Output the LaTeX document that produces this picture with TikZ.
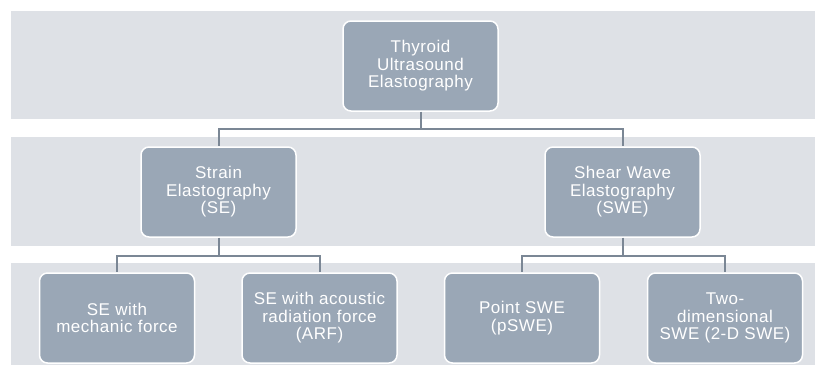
\documentclass[tikz,border=0pt]{standalone}
\usepackage{fontspec}
\setmainfont{Liberation Sans}[LetterSpace=3]
\definecolor{bandc}{HTML}{DEE1E6}
\definecolor{nodec}{HTML}{9AA7B6}
\definecolor{linec}{HTML}{7B8795}
\begin{document}
\begin{tikzpicture}[x=1pt,y=-1pt,
  box/.style={rectangle, rounded corners=8pt, fill=nodec, draw=white, line width=1.5pt,
    minimum width=155pt, minimum height=90pt, inner sep=2pt, align=center, text=white,
    font=\fontsize{17}{17.5}\selectfont},
  band/.style={fill=bandc, draw=none},
  conn/.style={draw=linec, line width=2pt}]
\useasboundingbox (0,0) rectangle (815,365);
\fill[white] (0,0) rectangle (815,365);
\path[band] (11,11) rectangle (815,119);
\path[band] (11,137) rectangle (815,246);
\path[band] (11,263) rectangle (815,365);
\node[box] (top) at (420.5,66) {Thyroid\\Ultrasound\\Elastography};
\node[box] (se) at (218.5,192) {Strain\\Elastography\\(SE)};
\node[box] (swe) at (622.5,192) {Shear Wave\\Elastography\\(SWE)};
\node[box] (b1) at (117,318) {SE with\\mechanic force};
\node[box] (b2) at (319.5,318) {SE with acoustic\\radiation force\\(ARF)};
\node[box] (b3) at (522,318) {Point SWE\\(pSWE)};
\node[box] (b4) at (725,318) {Two-\\dimensional\\SWE (2-D SWE)};
\draw[conn] (top.south) -- ++(0,17) -| (se.north);
\draw[conn] (top.south) -- ++(0,17) -| (swe.north);
\draw[conn] (se.south) -- ++(0,18) -| (b1.north);
\draw[conn] (se.south) -- ++(0,18) -| (b2.north);
\draw[conn] (swe.south) -- ++(0,18) -| (b3.north);
\draw[conn] (swe.south) -- ++(0,18) -| (b4.north);
\end{tikzpicture}
\end{document}
